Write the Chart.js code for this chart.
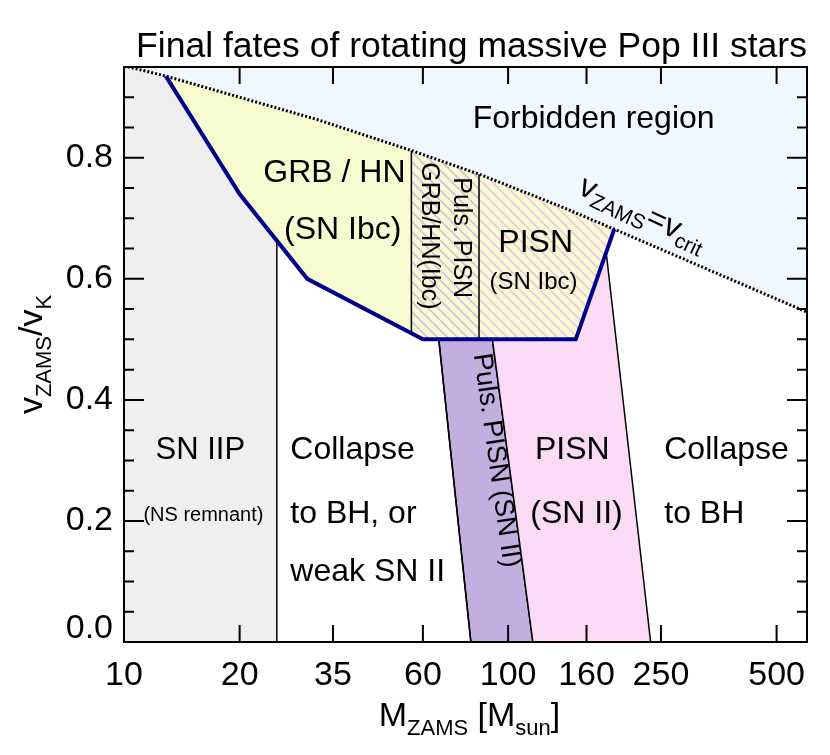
<!DOCTYPE html>
<html>
<head>
<meta charset="utf-8">
<script src="https://cdn.jsdelivr.net/npm/chart.js@4.4.1/dist/chart.umd.min.js"></script>
<style>
  html, body { margin: 0; padding: 0; background: #fff; }
</style>
</head>
<body>
<canvas id="fates" width="830" height="755"></canvas>
<script>
// tick labels
const massTicks = [10, 20, 35, 60, 100, 160, 250, 500];
const velTicks = [0.0, 0.2, 0.4, 0.6, 0.8];

// v_ZAMS = v_crit curve (dotted)
const critMass = [10, 12.85, 31.7, 56, 84, 136, 189, 600];
const critVel  = [0.952, 0.935, 0.8635, 0.812, 0.773, 0.7205, 0.682, 0.545];

// thick blue boundary
const blueMass = [12.85, 20, 30, 60, 150, 189];
const blueVel  = [0.935, 0.74, 0.6, 0.5, 0.5, 0.682];

// SN IIP (grey)
const iipMass = [10, 25, 25, 20, 12.85, 10];
const iipVel  = [0, 0, 0.663, 0.74, 0.935, 0.952];

// GRB / HN (yellow)
const grbMass = [12.85, 20, 30, 60, 150, 189, 136, 84, 56, 31.7, 12.85];
const grbVel  = [0.935, 0.74, 0.6, 0.5, 0.5, 0.682, 0.7205, 0.773, 0.812, 0.8635, 0.935];

// Puls. PISN GRB/HN(Ibc) (hatched)
const pulsIbcMass = [56, 60, 84, 84, 56];
const pulsIbcVel  = [0.51, 0.5, 0.5, 0.773, 0.812];

// PISN (SN Ibc) (hatched)
const pisnIbcMass = [84, 150, 189, 136, 84];
const pisnIbcVel  = [0.5, 0.5, 0.682, 0.7205, 0.773];

// Puls. PISN (SN II) band
const pulsIIMass = [66, 91, 116, 80, 66];
const pulsIIVel  = [0.5, 0.5, 0, 0, 0.5];

// PISN (SN II) band
const pisnIIMass = [91, 150, 180, 235, 116, 91];
const pisnIIVel  = [0.5, 0.5, 0.644, 0, 0, 0.5];

// thin black boundaries, [mass, mass], [vel, vel]
const edgeMass = [[25, 25], [56, 56], [84, 84], [66, 80], [91, 116], [180, 235]];
const edgeVel  = [[0, 0.663], [0.51, 0.812], [0.5, 0.773], [0.5, 0], [0.5, 0], [0.644, 0]];

const FONT = '"Liberation Sans", Arial, Helvetica, sans-serif';

const notes = [
  { parts: [['Forbidden region']], m: 167, v: 0.864, size: 32 },
  { parts: [['GRB / HN']], m: 35.3, v: 0.775, size: 32 },
  { parts: [['(SN Ibc)']], m: 37.1, v: 0.681, size: 32 },
  { parts: [['GRB/HN(Ibc)']], m: 62.1, v: 0.671, size: 25, rot: 90 },
  { parts: [['Puls. PISN']], m: 75.4, v: 0.668, size: 25, rot: 90 },
  { parts: [['PISN']], m: 118, v: 0.659, size: 32 },
  { parts: [['(SN Ibc)']], m: 116.5, v: 0.594, size: 24 },
  { parts: [['v'], ['ZAMS', 1], ['=v'], ['crit', 1]], m: 224, v: 0.707, size: 32, rot: 25 },
  { parts: [['SN IIP']], m: 15.8, v: 0.317, size: 31 },
  { parts: [['(NS remnant)']], m: 16.1, v: 0.209, size: 20 },
  { parts: [['Collapse']], m: 27.1, v: 0.317, size: 32, align: 'left' },
  { parts: [['to BH, or']], m: 27.1, v: 0.211, size: 32, align: 'left' },
  { parts: [['weak SN II']], m: 27.1, v: 0.115, size: 32, align: 'left' },
  { parts: [['Puls. PISN (SN II)']], m: 93.1, v: 0.300, size: 27, rot: 82 },
  { parts: [['PISN']], m: 147, v: 0.317, size: 32 },
  { parts: [['(SN II)']], m: 150.7, v: 0.211, size: 32 },
  { parts: [['Collapse']], m: 255, v: 0.317, size: 32, align: 'left' },
  { parts: [['to BH']], m: 255, v: 0.211, size: 32, align: 'left' }
];

function pts(m, v) {
  return m.map((x, i) => ({ x: x, y: v[i] }));
}

function hatch(bg, fg) {
  const s = 10;
  const c = document.createElement('canvas');
  c.width = c.height = s;
  const g = c.getContext('2d');
  g.fillStyle = bg;
  g.fillRect(0, 0, s, s);
  g.strokeStyle = fg;
  g.lineWidth = 1.6;
  for (const k of [-s, 0, s]) {
    g.beginPath();
    g.moveTo(k, 0);
    g.lineTo(k + s, s);
    g.stroke();
  }
  return g.createPattern(c, 'repeat');
}

function poly(m, v, color, order) {
  return {
    data: pts(m, v), fill: 'shape', backgroundColor: color,
    borderWidth: 0, borderColor: 'rgba(0,0,0,0)', pointRadius: 0, order: order
  };
}

function drawParts(ctx, parts, size, align, subDrop) {
  const subSize = Math.round(size * 0.66);
  let total = 0;
  const widths = parts.map(([t, sub]) => {
    ctx.font = (sub ? subSize : size) + 'px ' + FONT;
    const w = ctx.measureText(t).width;
    total += w;
    return w;
  });
  let cx = align === 'left' ? 0 : -total / 2;
  ctx.textAlign = 'left';
  parts.forEach(([t, sub], i) => {
    ctx.font = (sub ? subSize : size) + 'px ' + FONT;
    ctx.fillText(t, cx, sub ? subDrop : 0);
    cx += widths[i];
  });
}

const datasets = [
  poly(iipMass, iipVel, '#efefef', 8),
  poly(grbMass, grbVel, '#f6fbd0', 7),
  poly(pulsIbcMass, pulsIbcVel, hatch('#f6fbd0', '#cdbfe9'), 6),
  poly(pisnIbcMass, pisnIbcVel, hatch('#f6fbd0', '#f5c0ec'), 5),
  Object.assign(poly(pulsIIMass, pulsIIVel, '#c3aee0', 4), { borderWidth: 1.5, borderColor: '#000' }),
  poly(pisnIIMass, pisnIIVel, '#fadaf5', 3)
];
edgeMass.forEach((m, i) => {
  datasets.push({ data: pts(m, edgeVel[i]), fill: false, borderColor: '#000', borderWidth: 1.5, pointRadius: 0, order: 2 });
});
datasets.push({
  data: pts(critMass, critVel), fill: 'end', backgroundColor: '#f0f8fd',
  borderColor: '#000', borderWidth: 3, borderDash: [2, 2], pointRadius: 0, order: 1
});
datasets.push({
  data: pts(blueMass, blueVel), fill: false, borderColor: '#00008b',
  borderWidth: 4, borderJoinStyle: 'miter', pointRadius: 0, order: 0
});

const decor = {
  id: 'decor',
  afterDatasetsDraw(chart) {
    const { ctx, chartArea: a, scales: { x, y } } = chart;
    ctx.save();
    ctx.fillStyle = '#000';
    ctx.textBaseline = 'middle';
    for (const n of notes) {
      ctx.save();
      ctx.translate(x.getPixelForValue(n.m), y.getPixelForValue(n.v));
      if (n.rot) ctx.rotate(n.rot * Math.PI / 180);
      drawParts(ctx, n.parts, n.size, n.align, n.size * 0.3);
      ctx.restore();
    }
    ctx.restore();

    // frame and inward ticks
    ctx.save();
    ctx.strokeStyle = '#000';
    ctx.lineWidth = 2;
    ctx.strokeRect(a.left, a.top, a.right - a.left, a.bottom - a.top);
    ctx.beginPath();
    for (let i = 1; i < 19; i++) {
      const py = y.getPixelForValue(i * 0.05);
      const len = i % 4 === 0 ? 20 : 10;
      ctx.moveTo(a.left, py); ctx.lineTo(a.left + len, py);
      ctx.moveTo(a.right, py); ctx.lineTo(a.right - len, py);
    }
    for (const m of massTicks) {
      const px = x.getPixelForValue(m);
      if (px <= a.left + 1 || px >= a.right - 1) continue;
      ctx.moveTo(px, a.bottom); ctx.lineTo(px, a.bottom - 17);
      ctx.moveTo(px, a.top); ctx.lineTo(px, a.top + 17);
    }
    ctx.stroke();
    ctx.restore();
  },
  afterDraw(chart) {
    const { ctx, chartArea: a } = chart;
    ctx.save();
    ctx.fillStyle = '#000';
    ctx.textBaseline = 'alphabetic';
    // title
    ctx.save();
    ctx.translate((a.left + a.right) / 2 + 6, a.top - 10);
    drawParts(ctx, [['Final fates of rotating massive Pop III stars']], 35.5, 'center', 0);
    ctx.restore();
    // x title
    ctx.save();
    ctx.translate((a.left + a.right) / 2 + 4, a.bottom + 84);
    drawParts(ctx, [['M'], ['ZAMS', 1], [' [M'], ['sun', 1], [']']], 34, 'center', 9);
    ctx.restore();
    // y title
    ctx.save();
    ctx.translate(42, (a.top + a.bottom) / 2);
    ctx.rotate(-Math.PI / 2);
    drawParts(ctx, [['v'], ['ZAMS', 1], ['/v'], ['K', 1]], 34, 'center', 9);
    ctx.restore();
    ctx.restore();
  }
};

new Chart(document.getElementById('fates'), {
  type: 'line',
  data: { datasets: datasets },
  options: {
    responsive: false,
    animation: false,
    devicePixelRatio: 1,
    layout: { padding: { left: 60, right: 23, top: 67, bottom: 53 } },
    plugins: { legend: { display: false }, tooltip: { enabled: false }, title: { display: false } },
    scales: {
      x: {
        type: 'logarithmic', min: 10, max: 600,
        grid: { display: false, drawTicks: false }, border: { display: false },
        afterBuildTicks: s => { s.ticks = massTicks.map(v => ({ value: v })); },
        afterFit: s => { s.height = 60; },
        ticks: {
          autoSkip: false, maxRotation: 0, minRotation: 0, padding: 13, color: '#000',
          font: { family: FONT, size: 34 },
          callback: v => String(v)
        }
      },
      y: {
        type: 'linear', min: 0, max: 0.95,
        grid: { display: false, drawTicks: false }, border: { display: false },
        afterBuildTicks: s => { s.ticks = velTicks.map(v => ({ value: v })); },
        afterFit: s => { s.width = 64; },
        ticks: {
          padding: 11, color: '#000',
          font: { family: FONT, size: 34, lineHeight: 0.8 },
          callback: v => (v === 0 ? ['0.0', ''] : v.toFixed(1))
        }
      }
    }
  },
  plugins: [decor]
});
</script>
</body>
</html>
